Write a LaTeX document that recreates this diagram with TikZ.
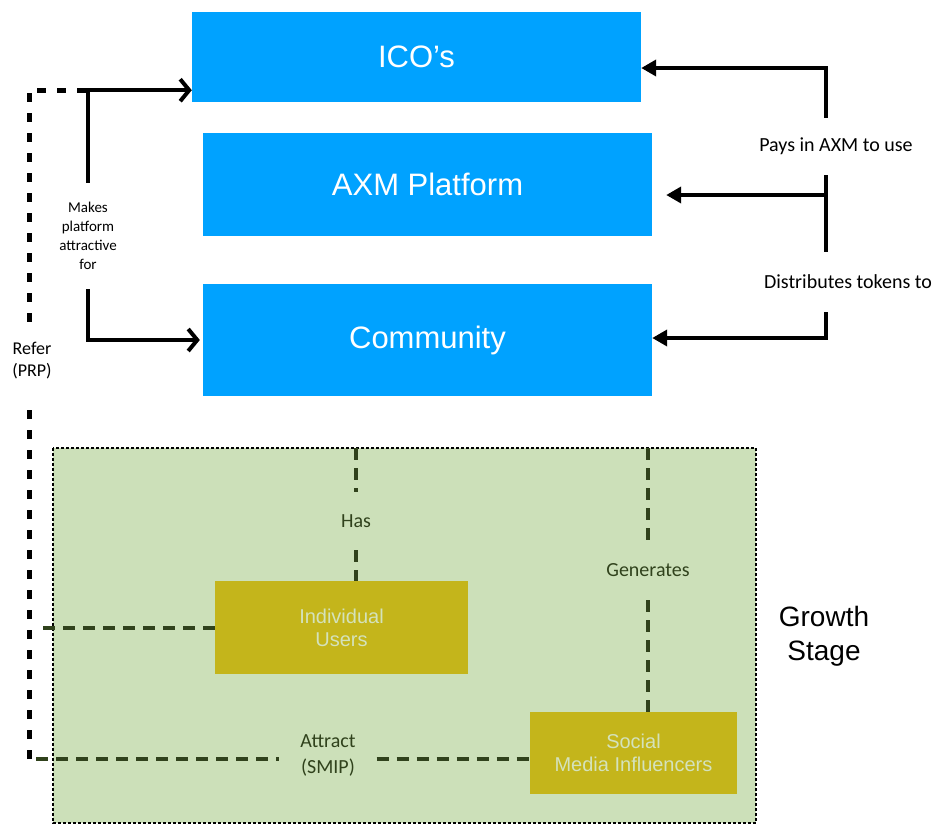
\documentclass[tikz,border=0pt]{standalone}
\usepackage{fontspec}
\setmainfont{Carlito}
\newfontfamily\arialf{Liberation Sans}
\usetikzlibrary{arrows.meta}
\definecolor{boxblue}{RGB}{0,162,255}
\definecolor{stagegreen}{RGB}{204,224,185}
\definecolor{olivebox}{RGB}{196,181,27}
\definecolor{darkgreen}{RGB}{48,66,28}
\definecolor{paletext}{RGB}{212,226,188}
\tikzset{
  bluebox/.style={fill=boxblue, text=white, minimum width=449pt, inner sep=0pt,
    font=\arialf\fontsize{31}{36}\selectfont},
  olivebox/.style={fill=olivebox, text=paletext, inner sep=0pt, align=center,
    font=\arialf\fontsize{20}{23}\selectfont},
  lbl/.style={text=black, inner sep=0pt, align=center, font=\fontsize{20}{24}\selectfont},
  glbl/.style={text=darkgreen, inner sep=0pt, align=center, font=\fontsize{20}{26}\selectfont},
  solidarrow/.style={draw=black, line width=4pt, -{Straight Barb[length=9pt,width=22pt]}},
  filledarrow/.style={draw=black, line width=4pt, -{Triangle[length=15pt,width=16pt]}},
  plainline/.style={draw=black, line width=4pt},
  greendash/.style={draw=darkgreen, line width=4pt, dash pattern=on 12pt off 8pt},
  referdash/.style={draw=black, line width=5pt, dash pattern=on 9pt off 11pt},
}
\begin{document}
\begin{tikzpicture}[x=1pt,y=-1pt]
\useasboundingbox (0,0) rectangle (945,825);

% growth stage region
\draw[fill=stagegreen, draw=black, line width=1.3pt, dash pattern=on 3pt off 2pt]
  (53,448) rectangle (756,823);
\node[font=\arialf\fontsize{28}{34}\selectfont, align=center, inner sep=0pt] (growth) at (824,636) {Growth\\Stage};

% blue boxes
\node[bluebox, minimum height=90pt] (ico) at (416.5,57) {ICO’s};
\node[bluebox, minimum height=103pt] (axm) at (427.5,184.5) {AXM Platform};
\node[bluebox, minimum height=112pt] (comm) at (427.5,340) {Community};

% olive boxes
\node[olivebox, minimum width=253pt, minimum height=93pt] (users) at (341.5,627.5) {Individual\\Users};
\node[olivebox, minimum width=207pt, minimum height=82pt] (social) at (633.5,753) {Social\\Media Influencers};

% right side connectors
\coordinate (rx) at (826,0);
\node[lbl, minimum height=57pt] (pays) at (836,146.5) {Pays in AXM to use};
\node[lbl, minimum height=60pt] (dist) at (848,282) {Distributes tokens to};
\draw[filledarrow] (pays.north -| rx) |- ([yshift=-11pt]ico.east);
\draw[plainline] (pays.south -| rx) -- (dist.north -| rx);
\draw[filledarrow] (rx |- 0,195) -- ([xshift=14pt]axm.east |- 0,195);
\draw[filledarrow] (dist.south -| rx) |- ([yshift=2pt]comm.east);

% left side connectors
\node[lbl, font=\fontsize{15}{19}\selectfont, minimum height=106pt] (makes) at (88,236) {Makes\\platform\\attractive\\for};
\draw[solidarrow] (makes.north) |- ([yshift=12pt]ico.south west);
\draw[solidarrow] (makes.south) |- ([xshift=-3pt]comm.west);

% refer connector
\node[lbl, font=\fontsize{18}{22}\selectfont, minimum height=78pt] (refer) at (32,361) {Refer\\(PRP)};
\coordinate (rl) at (29,0);
\coordinate (bend) at (29,759);
\draw[referdash] (rl |- refer.north) |- (makes.north |- 0,90);
\draw[referdash] (bend) -- (rl |- refer.south);

% growth stage connectors
\node[glbl, minimum height=58pt] (has) at (356,521) {Has};
\draw[greendash] (has.north |- 0,448) -- (has.north);
\draw[greendash] (has.south) -- (has.south |- users.north);

\node[glbl, minimum height=60pt] (gen) at (648,570) {Generates};
\draw[greendash] (gen.north |- 0,448) -- (gen.north);
\draw[greendash] (gen.south) -- (gen.south |- social.north);

\draw[greendash] (users.west) -- (36,627.5);

\node[glbl, minimum width=97pt] (attr) at (328,755) {Attract\\(SMIP)};
\draw[greendash] (36,759) -- (attr.west |- 0,759);
\draw[greendash] (attr.east |- 0,759) -- (social.west |- 0,759);
\end{tikzpicture}
\end{document}
